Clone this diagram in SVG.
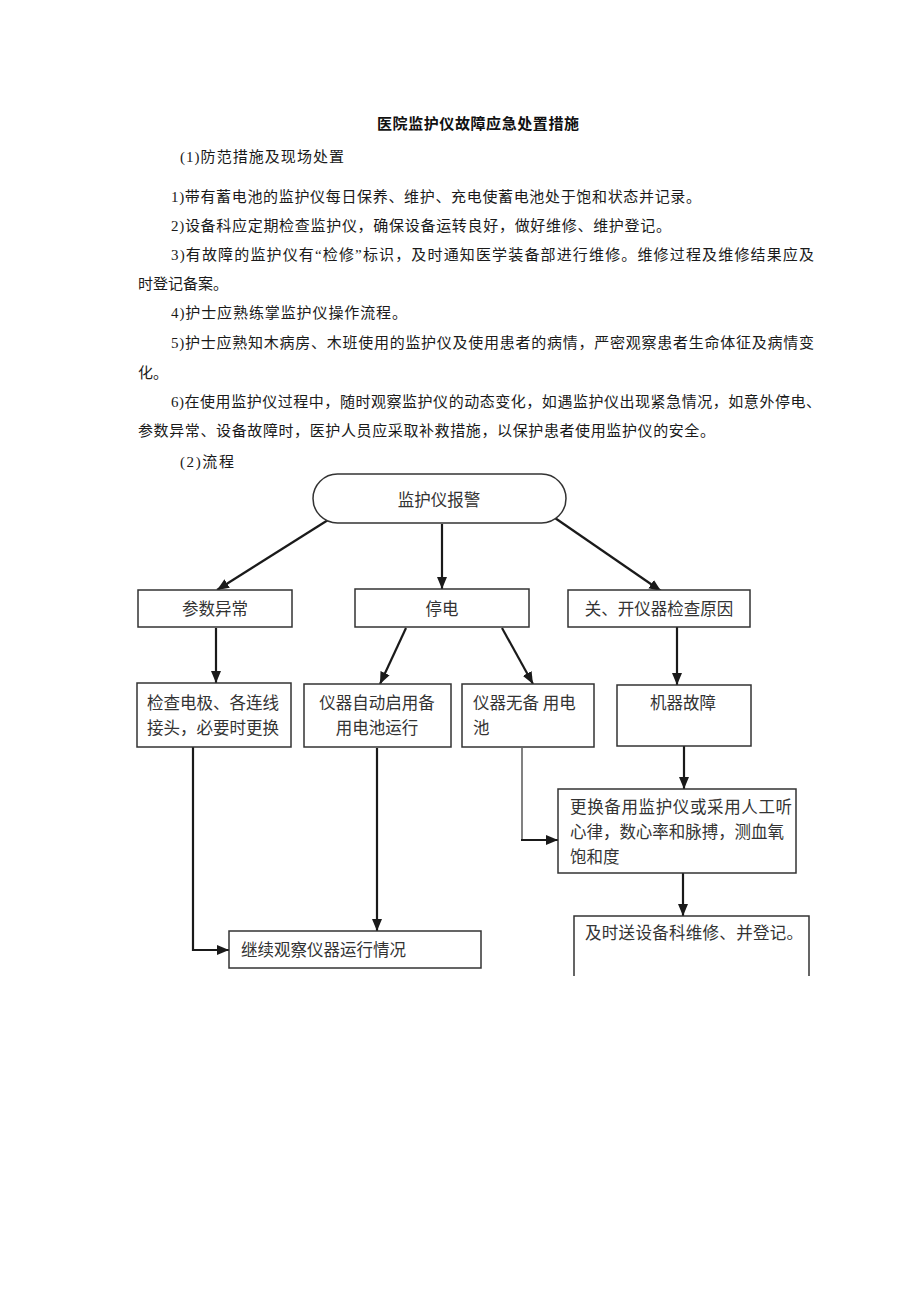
<svg xmlns="http://www.w3.org/2000/svg" width="920" height="1301" viewBox="0 0 920 1301">
<style>
.p{font-family:"Liberation Serif","Noto Sans CJK SC",serif;font-size:15px;fill:#1a1a1a}
.t{font-family:"Noto Sans CJK SC",sans-serif;font-size:15px;font-weight:bold;fill:#111}
.box{fill:#fff;stroke:#333;stroke-width:1.5}
.lbl{font-family:"Noto Sans CJK SC",sans-serif;font-size:16.5px;fill:#333}
.c{fill:none;stroke:#1a1a1a;stroke-width:2.2}
.thin{fill:none;stroke:#1a1a1a;stroke-width:1.1}
</style>
<defs>
<marker id="ah" markerUnits="userSpaceOnUse" markerWidth="13" markerHeight="11" refX="12" refY="5.5" orient="auto">
<path d="M0,0.5 L12,5.5 L0,10.5 z" fill="#1a1a1a"/>
</marker>
</defs>
<rect width="920" height="1301" fill="#fff"/>
<g id="text">
<text class="t" x="377" y="129" textLength="202">医院监护仪故障应急处置措施</text>
<text class="p" x="180" y="162" textLength="164">(1)防范措施及现场处置</text>
<text class="p" x="171" y="202" textLength="530">1)带有蓄电池的监护仪每日保养、维护、充电使蓄电池处于饱和状态并记录。</text>
<text class="p" x="171" y="231" textLength="500">2)设备科应定期检查监护仪，确保设备运转良好，做好维修、维护登记。</text>
<text class="p" x="171" y="260" textLength="643">3)有故障的监护仪有“检修”标识，及时通知医学装备部进行维修。维修过程及维修结果应及</text>
<text class="p" x="138" y="289">时登记备案。</text>
<text class="p" x="171" y="318" textLength="236">4)护士应熟练掌监护仪操作流程。</text>
<text class="p" x="171" y="348" textLength="643">5)护士应熟知木病房、木班使用的监护仪及使用患者的病情，严密观察患者生命体征及病情变</text>
<text class="p" x="138" y="378">化。</text>
<text class="p" x="171" y="407" textLength="650">6)在使用监护仪过程中，随时观察监护仪的动态变化，如遇监护仪出现紧急情况，如意外停电、</text>
<text class="p" x="138" y="436" textLength="577">参数异常、设备故障时，医护人员应采取补救措施，以保护患者使用监护仪的安全。</text>
<text class="p" x="180" y="467" textLength="54">(2)流程</text>
</g>
<g id="connectors">
<path class="c" d="M328,520 L217,590" marker-end="url(#ah)"/>
<path class="c" d="M442,524 L442,589" marker-end="url(#ah)"/>
<path class="c" d="M555,518 L661,591" marker-end="url(#ah)"/>
<path class="c" d="M216,628 L216,683" marker-end="url(#ah)"/>
<path class="c" d="M406,628 L380,684" marker-end="url(#ah)"/>
<path class="c" d="M502,628 L533,684" marker-end="url(#ah)"/>
<path class="c" d="M677,627 L677,685" marker-end="url(#ah)"/>
<path class="c" d="M193,747 L193,950 L229,950" marker-end="url(#ah)"/>
<path class="c" d="M377,748 L377,931" marker-end="url(#ah)"/>
<path class="thin" d="M522,748 L522,840"/>
<path class="c" d="M521,840 L558,840" marker-end="url(#ah)"/>
<path class="c" d="M684,746 L684,789" marker-end="url(#ah)"/>
<path class="c" d="M683,873 L683,916" marker-end="url(#ah)"/>
</g>
<g id="n_start">
<rect class="box" x="313" y="474" width="253" height="49" rx="24.5"/>
<text class="lbl" x="439" y="506" text-anchor="middle">监护仪报警</text>
</g>
<g id="n_param">
<rect class="box" x="138" y="590" width="154" height="37"/>
<text class="lbl" x="215" y="615" text-anchor="middle">参数异常</text>
</g>
<g id="n_power">
<rect class="box" x="355" y="589" width="174" height="38"/>
<text class="lbl" x="442" y="615" text-anchor="middle">停电</text>
</g>
<g id="n_restart">
<rect class="box" x="568" y="590" width="182" height="37"/>
<text class="lbl" x="659" y="615" text-anchor="middle">关、开仪器检查原因</text>
</g>
<g id="n_check">
<rect class="box" x="137" y="683" width="154" height="64"/>
<text class="lbl" x="147" y="709">检查电极、各连线</text>
<text class="lbl" x="147" y="734">接头，必要时更换</text>
</g>
<g id="n_battery">
<rect class="box" x="304" y="684" width="147" height="63"/>
<text class="lbl" x="377" y="709" text-anchor="middle">仪器自动启用备</text>
<text class="lbl" x="377" y="734" text-anchor="middle">用电池运行</text>
</g>
<g id="n_nobattery">
<rect class="box" x="462" y="684" width="132" height="63"/>
<text class="lbl" x="473" y="709">仪器无备 用电</text>
<text class="lbl" x="473" y="734">池</text>
</g>
<g id="n_fault">
<rect class="box" x="617" y="685" width="134" height="61"/>
<text class="lbl" x="683" y="709" text-anchor="middle">机器故障</text>
</g>
<g id="n_replace">
<rect class="box" x="558" y="789" width="238" height="84"/>
<text class="lbl" x="570" y="813" textLength="222">更换备用监护仪或采用人工听</text>
<text class="lbl" x="570" y="838" textLength="214">心律，数心率和脉搏，测血氧</text>
<text class="lbl" x="570" y="863">饱和度</text>
</g>
<g id="n_send">
<path class="box" d="M574,976 L574,916 L809,916 L809,976"/>
<text class="lbl" x="585" y="939" textLength="218">及时送设备科维修、并登记。</text>
</g>
<g id="n_observe">
<rect class="box" x="229" y="931" width="252" height="37"/>
<text class="lbl" x="241" y="956">继续观察仪器运行情况</text>
</g>
</svg>
